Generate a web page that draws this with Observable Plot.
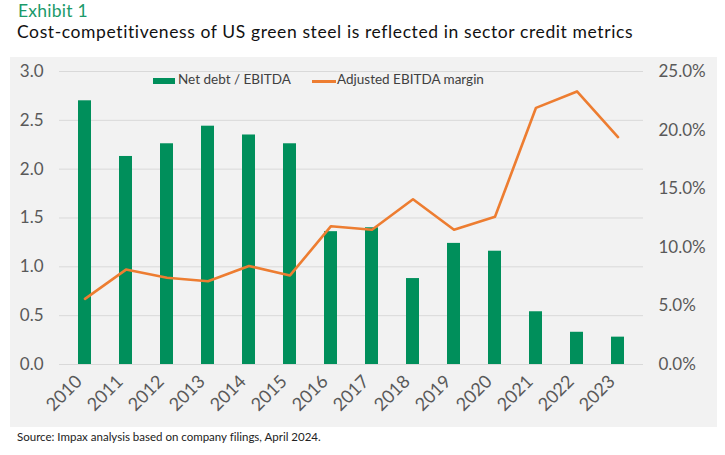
<!DOCTYPE html>
<html>
<head>
<meta charset="utf-8">
<script src="https://cdn.jsdelivr.net/npm/d3@7"></script>
<script src="https://cdn.jsdelivr.net/npm/@observablehq/plot@0.6"></script>
<style>
  html, body { margin: 0; padding: 0; background: #ffffff; }
  body { width: 725px; height: 455px; position: relative; overflow: hidden; font-family: Lato, "Noto Sans", sans-serif; font-variant-ligatures: none; }
  #exhibit { position: absolute; left: 18px; top: 2px; font-size: 17.5px; letter-spacing: 0.25px; color: #1b9a6a; line-height: 18px; }
  #title { position: absolute; left: 17px; top: 22px; font-size: 17.5px; letter-spacing: 0.6px; color: #111; line-height: 20px; white-space: nowrap; }
  #panel { position: absolute; left: 10px; top: 57px; width: 707px; height: 370px; background: #f2f2f2; }
  #source { position: absolute; left: 17px; top: 430px; font-size: 11.5px; color: #222; }
  .leg { position: absolute; font-size: 13.5px; color: #404040; white-space: nowrap; }
  .sw { position: absolute; }
</style>
</head>
<body>
<div id="exhibit">Exhibit 1</div>
<div id="title">Cost-competitiveness of US green steel is reflected in sector credit metrics</div>
<div id="panel"></div>
<div id="source">Source: Impax analysis based on company filings, April 2024.</div>
<script>
const years = ["2010","2011","2012","2013","2014","2015","2016","2017","2018","2019","2020","2021","2022","2023"];
const netDebtEbitda = [2.70, 2.13, 2.26, 2.44, 2.35, 2.26, 1.36, 1.40, 0.88, 1.24, 1.16, 0.54, 0.33, 0.28];
const ebitdaMargin = [5.6, 8.1, 7.4, 7.1, 8.4, 7.6, 11.8, 11.5, 14.1, 11.5, 12.6, 21.9, 23.3, 19.4];
const leftTicks = [0, 0.5, 1.0, 1.5, 2.0, 2.5, 3.0];
const rightTicks = [0, 5, 10, 15, 20, 25];
const seriesNames = ["Net debt / EBITDA", "Adjusted EBITDA margin"];

const leftMax = 3.0, rightMax = 25;
const toLeft = p => p / rightMax * leftMax;

const rows = years.map((y, i) => ({year: y, debt: netDebtEbitda[i], margin: ebitdaMargin[i]}));

const labelColor = "#595959";
const chart = Plot.plot({
  width: 707,
  height: 370,
  marginLeft: 49,
  marginRight: 74,
  marginTop: 14,
  marginBottom: 63,
  style: { background: "transparent", fontFamily: "Lato, 'Noto Sans', sans-serif", overflow: "visible" },
  x: { type: "band", domain: years, paddingInner: 0.69, paddingOuter: 0.345, axis: null },
  y: { domain: [0, leftMax], axis: null },
  marks: [
    Plot.gridY(leftTicks, { stroke: "#d9d9d9", strokeOpacity: 1, strokeWidth: 1 }),
    Plot.barY(rows, { x: "year", y: "debt", fill: "#008f5b" }),
    Plot.line(rows, { x: "year", y: d => toLeft(d.margin), stroke: "#ed7d31", strokeWidth: 2.6, curve: "linear" }),
    Plot.axisY(leftTicks, { anchor: "left", label: null, tickSize: 0, tickPadding: 16, tickFormat: d3.format(".1f"), fontSize: 17, fill: labelColor }),
    Plot.axisY(rightTicks.map(toLeft), { anchor: "right", label: null, tickSize: 0, tickPadding: 15, textAnchor: "start", tickFormat: d => (d / leftMax * rightMax).toFixed(1) + "%", fontSize: 17, fill: labelColor }),
    Plot.axisX(years, { anchor: "bottom", label: null, tickSize: 0, tickPadding: 14, dx: -6, tickRotate: -45, fontSize: 18, fill: labelColor })
  ]
});
const panel = document.getElementById("panel");
panel.appendChild(chart);

// legend
const leg = document.createElement("div");
leg.innerHTML = `
  <div class="sw" style="left:143px; top:21px; width:22px; height:6px; background:#008f5b;"></div>
  <div class="leg" style="left:168px; top:14px;">${seriesNames[0]}</div>
  <div class="sw" style="left:302px; top:23px; width:24px; height:2.5px; background:#ed7d31;"></div>
  <div class="leg" style="left:327px; top:14px;">${seriesNames[1]}</div>`;
panel.appendChild(leg);
</script>
</body>
</html>
